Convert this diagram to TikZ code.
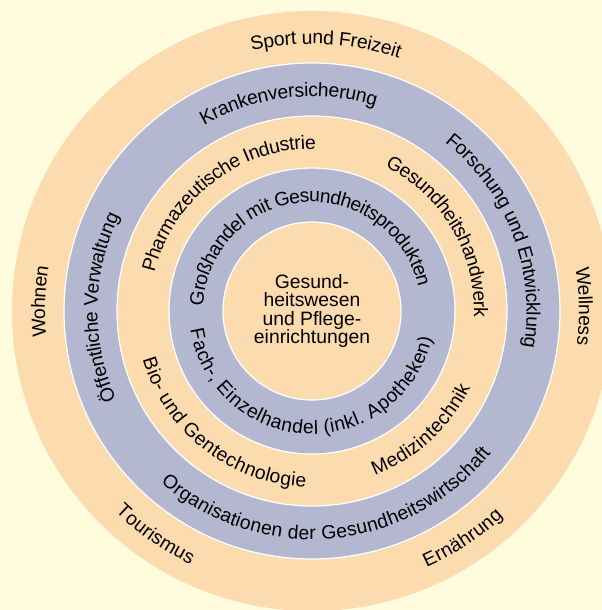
\documentclass[tikz,border=0pt]{standalone}
\usepackage{fontspec}
\setmainfont{Liberation Sans}
\usetikzlibrary{decorations.text}
\definecolor{paper}{HTML}{FFFBDD}
\definecolor{apricot}{HTML}{FCDBAE}
\definecolor{lavender}{HTML}{B3B7CF}
\newcommand{\ringfont}{\fontsize{11}{10.4}\selectfont}
\tikzset{
    band/.style={
        draw=white,
        line width=0.7pt,
    },
    warmband/.style={
        band,
        fill=apricot,
    },
    coolband/.style={
        band,
        fill=lavender,
    },
    arclabel/.style={
        decorate,
        decoration={text along path, text align=center, raise=-0.14cm,
            text={|\ringfont|#1}},
    },
    core/.style={
        align=center,
        font=\ringfont,
    },
}

\begin{document}
\begin{tikzpicture}
    \fill[paper] (-6.24,-5.98) rectangle (5.80,6.22);
    \useasboundingbox (-6.24,-5.98) rectangle (5.80,6.22);
    \clip (-6.24,-5.98) rectangle (5.80,6.22);
    % rings
    \fill[apricot] (0,0) circle[radius=6.00];
    \draw[coolband] (0,0) circle[radius=4.96];
    \draw[warmband] (0,0) circle[radius=3.90];
    \draw[coolband] (0,0) circle[radius=2.86];
    \draw[warmband] (0,0) circle[radius=1.78];
    \node[core] (hub) at (0,0) {Gesund-\\heitswesen\\und Pflege-\\einrichtungen};
    % outer ring
    \path[arclabel={Sport und Freizeit}] (117:5.48) arc[start angle=117, end angle=57, radius=5.48];
    \path[arclabel={Wohnen}] (208:5.48) arc[start angle=208, end angle=148, radius=5.48];
    \path[arclabel={Wellness}] (31:5.48) arc[start angle=31, end angle=-29, radius=5.48];
    \path[arclabel={Tourismus}] (205:5.48) arc[start angle=205, end angle=265, radius=5.48];
    \path[arclabel={Ernährung}] (273.5:5.48) arc[start angle=273.5, end angle=333.5, radius=5.48];
    % second ring
    \path[arclabel={Krankenversicherung}] (156.5:4.43) arc[start angle=156.5, end angle=36.5, radius=4.43];
    \path[arclabel={Forschung und Entwicklung}] (81:4.43) arc[start angle=81, end angle=-39, radius=4.43];
    \path[arclabel={Öffentliche Verwaltung}] (239:4.43) arc[start angle=239, end angle=119, radius=4.43];
    \path[arclabel={Organisationen der Gesundheitswirtschaft}] (215:4.43) arc[start angle=215, end angle=335, radius=4.43];
    % third ring
    \path[arclabel={Pharmazeutische Industrie}] (187.5:3.38) arc[start angle=187.5, end angle=67.5, radius=3.38];
    \path[arclabel={Gesundheitshandwerk}] (90.5:3.38) arc[start angle=90.5, end angle=-29.5, radius=3.38];
    \path[arclabel={Bio- und Gentechnologie}] (172:3.38) arc[start angle=172, end angle=292, radius=3.38];
    \path[arclabel={Medizintechnik}] (252.5:3.38) arc[start angle=252.5, end angle=372.5, radius=3.38];
    % inner ring
    \path[arclabel={Großhandel mit Gesundheitsprodukten}] (185:2.32) arc[start angle=185, end angle=5, radius=2.32];
    \path[arclabel={Fach-, Einzelhandel (inkl. Apotheken)}] (178:2.32) arc[start angle=178, end angle=358, radius=2.32];
\end{tikzpicture}
\end{document}
